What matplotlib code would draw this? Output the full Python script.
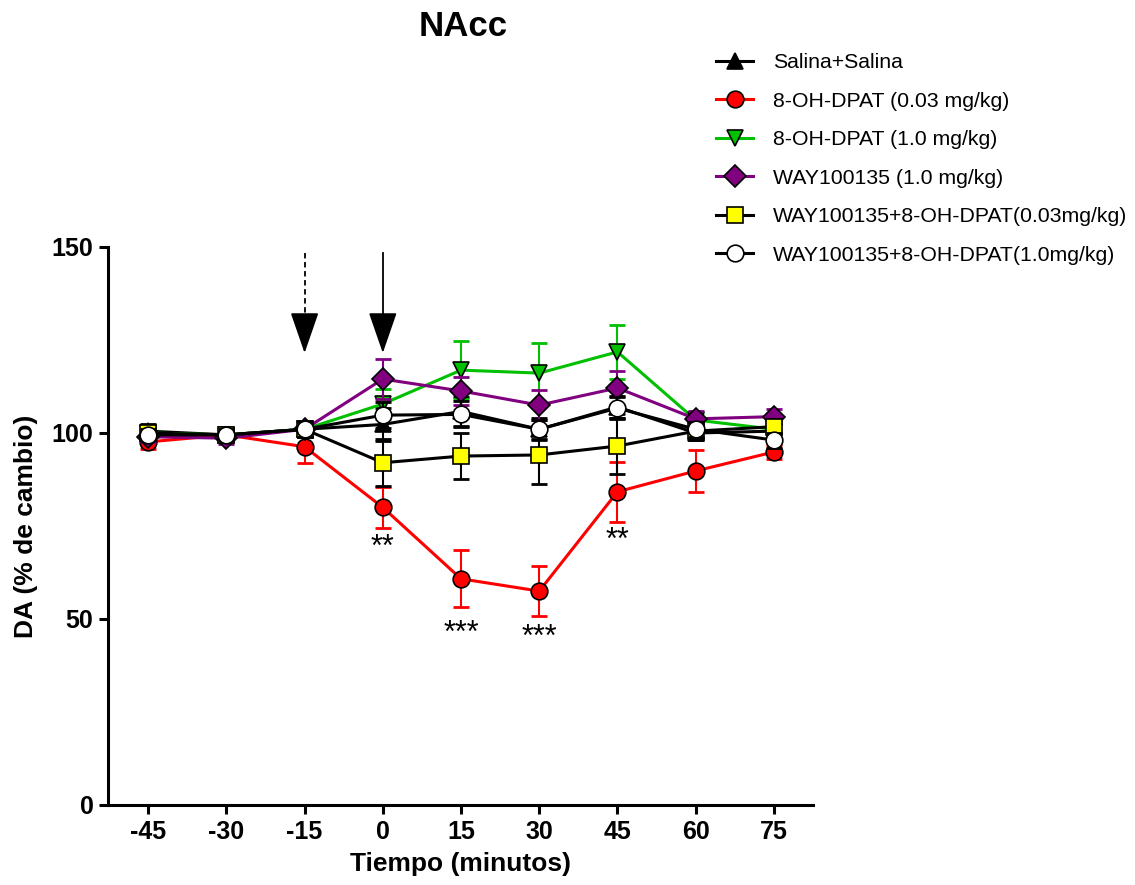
import numpy as np
import matplotlib
matplotlib.use('Agg')
import matplotlib.pyplot as plt

plt.rcParams['font.family'] = ['Liberation Sans', 'DejaVu Sans']
plt.rcParams['axes.unicode_minus'] = False

tiempo = [-45, -30, -15, 0, 15, 30, 45, 60, 75]

labels = ['Salina+Salina', '8-OH-DPAT (0.03 mg/kg)', '8-OH-DPAT (1.0 mg/kg)',
          'WAY100135 (1.0 mg/kg)', 'WAY100135+8-OH-DPAT(0.03mg/kg)',
          'WAY100135+8-OH-DPAT(1.0mg/kg)']

salina = [100.5, 99.5, 101.0, 102.3, 105.8, 101.0, 107.0, 100.0, 100.5]
salina_err = [2.0, 1.5, 2.0, 4.5, 4.0, 3.0, 3.0, 2.0, 2.0]

dpat_003 = [97.6, 99.5, 96.3, 80.0, 60.8, 57.5, 84.2, 89.8, 94.9]
dpat_003_err = [2.0, 1.5, 4.4, 5.5, 7.7, 6.8, 8.0, 5.6, 2.0]

dpat_10 = [100.0, 99.5, 101.0, 107.8, 116.9, 116.1, 121.8, 103.5, 101.0]
dpat_10_err = [1.5, 1.5, 2.0, 4.0, 7.8, 8.2, 7.3, 2.0, 2.0]

way = [99.0, 98.6, 101.0, 114.5, 111.3, 107.5, 112.1, 103.8, 104.4]
way_err = [1.5, 1.5, 2.0, 5.4, 3.8, 4.0, 4.6, 2.0, 2.0]

way_dpat_003 = [100.0, 99.5, 101.0, 92.0, 93.8, 94.1, 96.5, 100.5, 101.7]
way_dpat_003_err = [1.5, 1.5, 2.0, 6.3, 6.3, 7.8, 7.5, 2.0, 2.0]

way_dpat_10 = [99.5, 99.5, 101.0, 104.8, 105.0, 101.0, 106.7, 101.0, 98.1]
way_dpat_10_err = [1.5, 1.5, 2.0, 3.5, 3.5, 2.5, 3.0, 2.0, 2.0]

# significance marks
sig_times = [0, 15, 30, 45]
sig_text = ['**', '***', '***', '**']
sig_y = [69.0, 46.0, 45.0, 71.0]

# injection arrows
arrow_times = [-15, 0]
arrow_styles = [(0, (3, 2)), '-']

series = [
    (salina, salina_err, 'black', 'black', '^', 11),
    (dpat_003, dpat_003_err, '#FF0000', '#FF0000', 'o', 12),
    (dpat_10, dpat_10_err, '#00C000', '#00C000', 'v', 12),
    (way, way_err, '#800080', '#800080', 'D', 11),
    (way_dpat_003, way_dpat_003_err, 'black', '#FFFF00', 's', 12),
    (way_dpat_10, way_dpat_10_err, 'black', 'white', 'o', 12),
]

fig = plt.figure(figsize=(11.35, 8.85), dpi=100)
ax = fig.add_axes([108 / 1135, 80 / 885, 705 / 1135, 558 / 885])

handles = []
for i, (vals, err, lc, fc, mk, ms) in enumerate(series):
    z = 3 + i
    ax.errorbar(tiempo, vals, yerr=err, fmt='none', ecolor=lc, elinewidth=1.5,
                capsize=6, capthick=2.0, zorder=z)
    line, = ax.plot(tiempo, vals, color=lc, lw=2.2, marker=mk, markersize=ms,
                    markerfacecolor=fc, markeredgecolor='black', markeredgewidth=1.2,
                    label=labels[i], zorder=z + 0.5)
    handles.append(line)

for t, s, y in zip(sig_times, sig_text, sig_y):
    ax.text(t, y, s, ha='center', va='center', fontsize=22)

head_tip, head_base, shaft_top = 121.5, 128.2, 148.3
for t, ls in zip(arrow_times, arrow_styles):
    ax.plot([t, t], [shaft_top, head_base], color='black', lw=1.3, linestyle=ls)
    ax.annotate('', xy=(t, head_tip), xytext=(t, head_base + 0.5),
                arrowprops=dict(arrowstyle='-|>,head_length=1.3,head_width=0.45',
                                color='black', lw=1.3, mutation_scale=20,
                                shrinkA=0, shrinkB=0))

ax.set_xlim(-52.7, 82.5)
ax.set_ylim(0, 150)
ax.set_xticks(tiempo)
ax.set_yticks([0, 50, 100, 150])
ax.spines['top'].set_visible(False)
ax.spines['right'].set_visible(False)
for s in ['left', 'bottom']:
    ax.spines[s].set_linewidth(2.2)
ax.tick_params(width=2.2, length=6.5, labelsize=18, pad=4)
for lab in ax.get_xticklabels() + ax.get_yticklabels():
    lab.set_fontweight('bold')

ax.set_xlabel('Tiempo (minutos)', fontsize=19, fontweight='bold', labelpad=6)
ax.set_ylabel('DA (% de cambio)', fontsize=19, fontweight='bold', labelpad=10)
fig.text(463 / 1135, 1 - 27 / 885, 'NAcc', ha='center', va='center',
         fontsize=25, fontweight='bold')

fig.legend(handles=handles, loc='upper left', bbox_to_anchor=(716 / 1135, 1 - 53 / 885),
           frameon=False, fontsize=15.3, handlelength=1.75, handletextpad=0.95,
           labelspacing=0.92, borderpad=0, borderaxespad=0)

fig.savefig('out.png', dpi=100)
